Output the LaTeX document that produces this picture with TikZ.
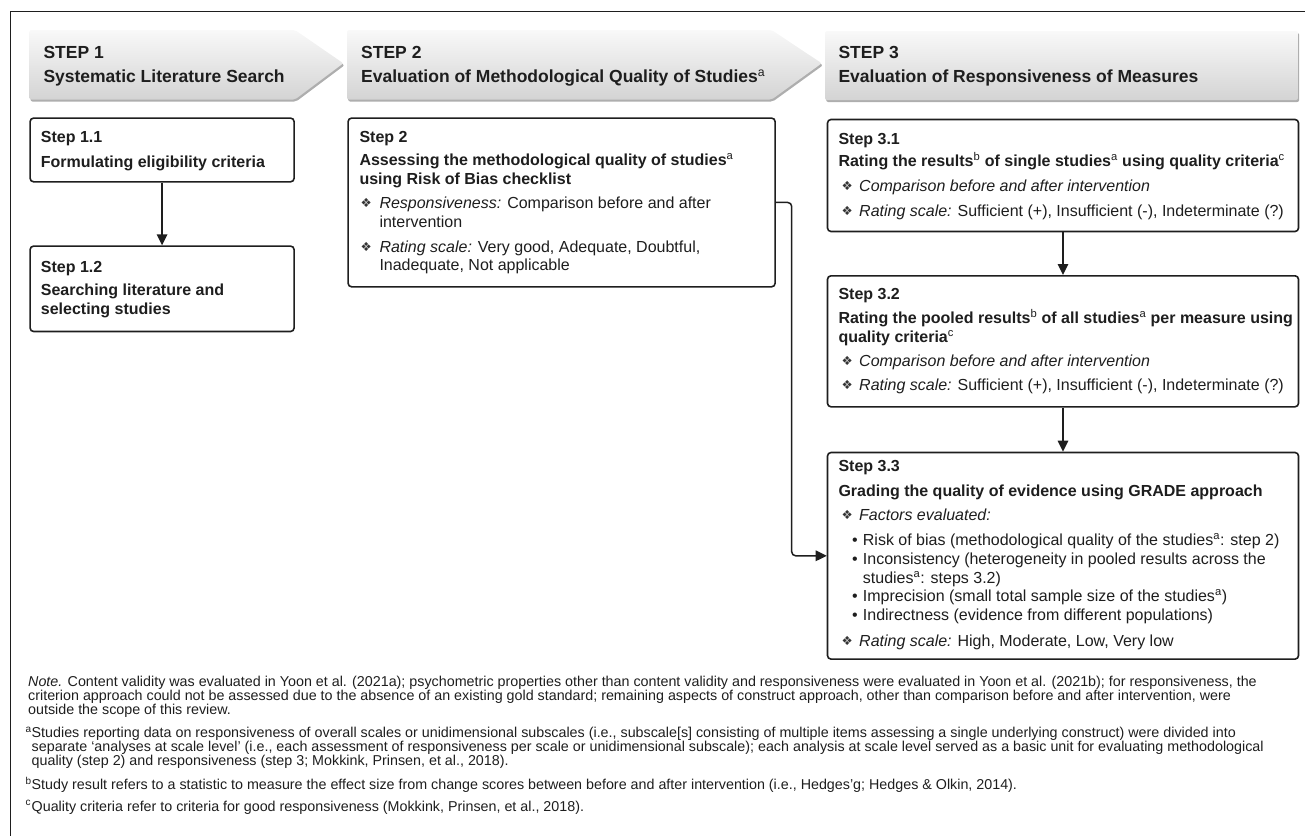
\documentclass[tikz,border=0pt]{standalone}
\usepackage{fontspec}
\setmainfont{Liberation Sans}
\newfontfamily\dejavu{DejaVu Sans}
\usetikzlibrary{arrows.meta,shadows}
\definecolor{ink}{HTML}{1E1E1E}
\newcommand\sps[1]{\textsuperscript{\normalfont #1}}
\newcommand\dia{{\dejavu\fontsize{12.5}{12.5}\selectfont\textcolor{ink!90}{❖}}}
\tikzset{
 box/.style={draw=ink, line width=1.6pt, rounded corners=3.5pt, fill=white, inner sep=0pt, anchor=north west},
 banner/.style={top color=gray!5, bottom color=gray!34, draw=none, rounded corners=2pt,
   drop shadow={shadow xshift=1.2pt, shadow yshift=-2pt, fill=gray!85, opacity=0.75}},
 t/.style={anchor=base west, inner sep=0pt, text=ink, font=\fontsize{16}{19}\selectfont},
 tb/.style={anchor=base west, inner sep=0pt, text=ink, font=\fontsize{16}{19}\selectfont\bfseries},
 ban/.style={anchor=base west, inner sep=0pt, text=ink, font=\fontsize{17.5}{21}\selectfont\bfseries},
 nt/.style={anchor=base west, inner sep=0pt, text=ink, font=\fontsize{14.3}{14}\selectfont},
 arr/.style={draw=ink, line width=1.5pt, -{Triangle[length=11pt,width=10.5pt]}},
}
\begin{document}
\begin{tikzpicture}[x=1pt,y=-1pt]
\useasboundingbox (0,0) rectangle (1305,835);
% frame
\draw[ink, line width=1pt] (10,845) -- (10,11) -- (1315,11);
% banners
\path[banner] (29.3,30) -- (295,30) -- (343.3,63.3) -- (295,99.5) -- (29.3,99.5) -- cycle;
\path[banner] (347,30) -- (771.7,30) -- (821.7,63.3) -- (771.7,99.5) -- (347,99.5) -- cycle;
\path[banner] (825,31) -- (1298,31) -- (1298,100) -- (825,100) -- cycle;
\node[ban] (b1a) at (43.3,58.3) {STEP 1};
\node[ban] (b1b) at (43.3,82.7) {Systematic Literature Search};
\node[ban] (b2a) at (361,58.3) {STEP 2};
\node[ban] (b2b) at (361,82.7) {Evaluation of Methodological Quality of Studies\sps{a}};
\node[ban] (b3a) at (838.3,58.3) {STEP 3};
\node[ban] (b3b) at (838.3,82.7) {Evaluation of Responsiveness of Measures};
% boxes
\node[box, minimum width=264pt, minimum height=63.7pt] (s11) at (29.3,117.3) {};
\node[box, minimum width=264pt, minimum height=85.4pt] (s12) at (29.3,245.3) {};
\node[box, minimum width=427pt, minimum height=168.7pt] (s2) at (347.3,117.3) {};
\node[box, minimum width=471pt, minimum height=112pt] (s31) at (826.7,118.7) {};
\node[box, minimum width=471pt, minimum height=131pt] (s32) at (826.7,275) {};
\node[box, minimum width=471pt, minimum height=206.6pt] (s33) at (826.7,451.7) {};
% connectors
\draw[arr] (s11.south) -- (s12.north);
\draw[arr] (s31.south) -- (s32.north);
\draw[arr] (s32.south) -- (s33.north);
\coordinate (bend) at (791.7,202);
\draw[arr, rounded corners=4pt] (s2.east) -- (bend |- s2.east) -- (bend |- s33.west) -- (s33.west);
% step 1.1
\node[tb] (t11a) at (40.7,142) {Step 1.1};
\node[tb] (t11b) at (40.7,167) {Formulating eligibility criteria};
% step 1.2
\node[tb] (t12a) at (40.7,272) {Step 1.2};
\node[tb] (t12b) at (40.7,295) {Searching literature and};
\node[tb] (t12c) at (40.7,314) {selecting studies};
% step 2
\node[tb] (t2a) at (359.3,142.3) {Step 2};
\node[tb] (t2b) at (359.3,165.7) {Assessing the methodological quality of studies\sps{a}};
\node[tb] (t2c) at (359.3,184.3) {using Risk of Bias checklist};
\node[t] (t2d0) at (360.5,207.3) {\dia};
\node[t] (t2d) at (379.3,208.3) {{\itshape Responsiveness:} Comparison before and after};
\node[t] (t2e) at (379.3,227.7) {intervention};
\node[t] (t2f0) at (360.5,251) {\dia};
\node[t] (t2f) at (379.3,252) {{\itshape Rating scale:} Very good, Adequate, Doubtful,};
\node[t] (t2g) at (379.3,270.7) {Inadequate, Not applicable};
% step 3.1
\node[tb] (t31a) at (838.3,144) {Step 3.1};
\node[tb] (t31b) at (838.3,166.7) {Rating the results\sps{b} of single studies\sps{a} using quality criteria\sps{c}};
\node[t] (t31c0) at (841.5,190) {\dia};
\node[t] (t31c) at (859,191) {\itshape Comparison before and after intervention};
\node[t] (t31d0) at (841.5,215) {\dia};
\node[t] (t31d) at (859,216) {{\itshape Rating scale:} Sufficient (+), Insufficient (-), Indeterminate (?)};
% step 3.2
\node[tb] (t32a) at (838.3,299.3) {Step 3.2};
\node[tb] (t32b) at (838.3,323.3) {Rating the pooled results\sps{b} of all studies\sps{a} per measure using};
\node[tb] (t32c) at (838.3,342.3) {quality criteria\sps{c}};
\node[t] (t32d0) at (841.5,365) {\dia};
\node[t] (t32d) at (859,366) {\itshape Comparison before and after intervention};
\node[t] (t32e0) at (841.5,389.7) {\dia};
\node[t] (t32e) at (859,390.7) {{\itshape Rating scale:} Sufficient (+), Insufficient (-), Indeterminate (?)};
% step 3.3
\node[tb] (t33a) at (838.3,471.7) {Step 3.3};
\node[tb] (t33b) at (838.3,496.7) {Grading the quality of evidence using GRADE approach};
\node[t] (t33c0) at (841.5,519.7) {\dia};
\node[t] (t33c) at (859,520.7) {\itshape Factors evaluated:};
\node[t] (t33d0) at (852,545.7) {•};
\node[t] (t33d) at (862.7,545.7) {Risk of bias (methodological quality of the studies\sps{a}: step 2)};
\node[t] (t33e0) at (852,564.3) {•};
\node[t] (t33e) at (862.7,564.3) {Inconsistency (heterogeneity in pooled results across the};
\node[t] (t33f) at (862.7,583.3) {studies\sps{a}: steps 3.2)};
\node[t] (t33g0) at (852,601.7) {•};
\node[t] (t33g) at (862.7,601.7) {Imprecision (small total sample size of the studies\sps{a})};
\node[t] (t33h0) at (852,620.7) {•};
\node[t] (t33h) at (862.7,620.7) {Indirectness (evidence from different populations)};
\node[t] (t33i0) at (841.5,645.7) {\dia};
\node[t] (t33i) at (859,646.7) {{\itshape Rating scale:} High, Moderate, Low, Very low};
% notes
\node[nt] (n1) at (28,686.5) {{\itshape Note.} Content validity was evaluated in Yoon et al. (2021a); psychometric properties other than content validity and responsiveness were evaluated in Yoon et al. (2021b); for responsiveness, the};
\node[nt] (n2) at (28,700.5) {criterion approach could not be assessed due to the absence of an existing gold standard; remaining aspects of construct approach, other than comparison before and after intervention, were};
\node[nt] (n3) at (28,714.5) {outside the scope of this review.};
\node[nt] (fa0) at (25.5,737.5) {\sps{a}};
\node[nt] (fa1) at (31.5,737.5) {Studies reporting data on responsiveness of overall scales or unidimensional subscales (i.e., subscale[s] consisting of multiple items assessing a single underlying construct) were divided into};
\node[nt] (fa2) at (31.5,751.5) {separate ‘analyses at scale level’ (i.e., each assessment of responsiveness per scale or unidimensional subscale); each analysis at scale level served as a basic unit for evaluating methodological};
\node[nt] (fa3) at (31.5,765.5) {quality (step 2) and responsiveness (step 3; Mokkink, Prinsen, et al., 2018).};
\node[nt] (fb0) at (25.5,789.5) {\sps{b}};
\node[nt] (fb1) at (31.5,789.5) {Study result refers to a statistic to measure the effect size from change scores between before and after intervention (i.e., Hedges’g; Hedges \& Olkin, 2014).};
\node[nt] (fc0) at (25.5,811) {\sps{c}};
\node[nt] (fc1) at (31.5,811) {Quality criteria refer to criteria for good responsiveness (Mokkink, Prinsen, et al., 2018).};
\end{tikzpicture}
\end{document}
